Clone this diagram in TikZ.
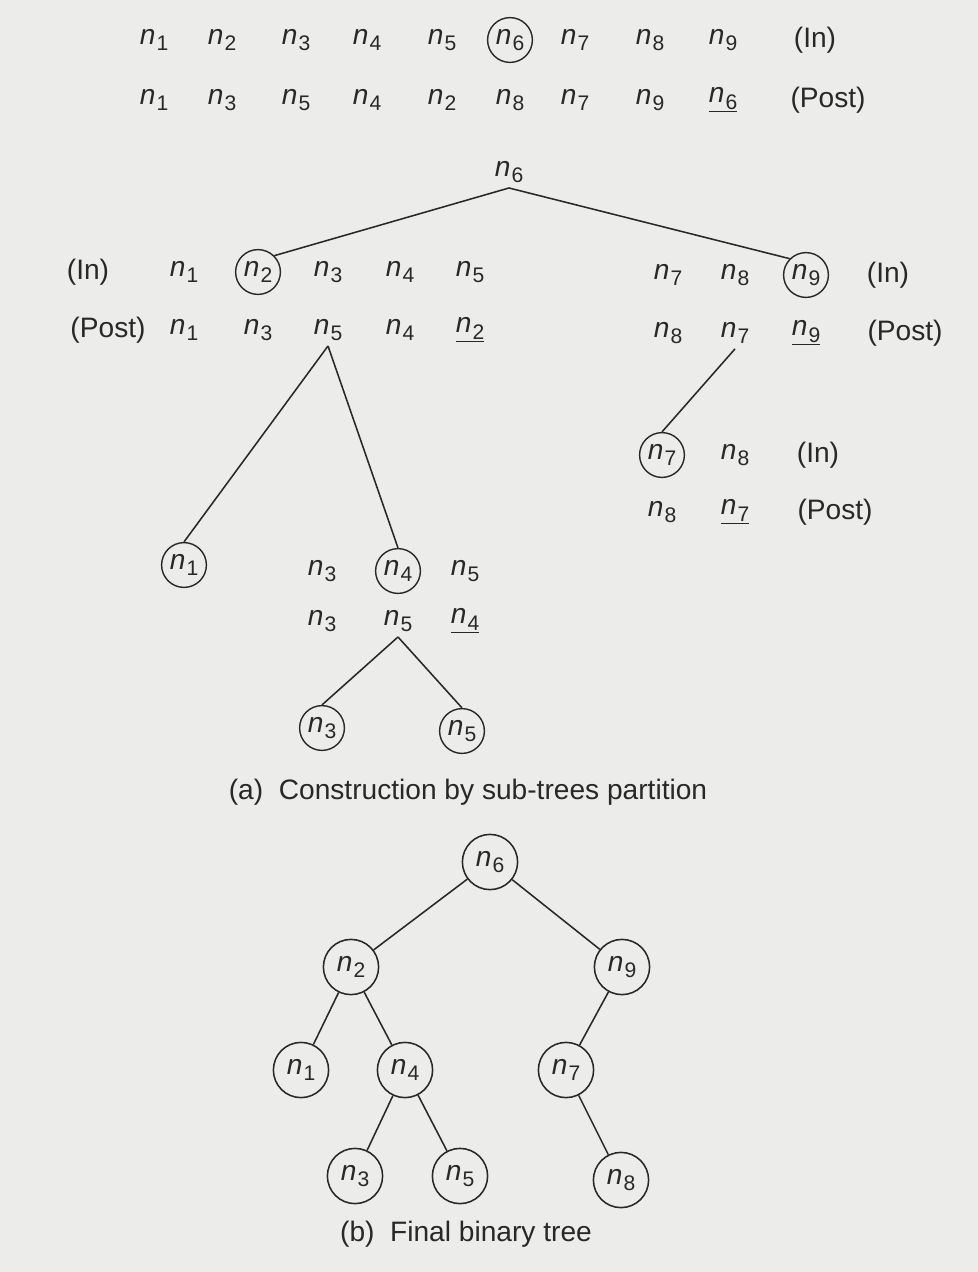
\documentclass[tikz,border=0pt]{standalone}
\usepackage{fontspec}
\setmainfont{Liberation Sans}
\definecolor{paper}{RGB}{236,236,234}
\definecolor{ink}{RGB}{40,40,40}
% node label n_i
\newcommand{\nd}[1]{\textit{n}\kern0.04em\raisebox{-0.45ex}{\fontsize{15}{15}\selectfont #1}}

\begin{document}
\begin{tikzpicture}[x=0.025cm, y=-0.025cm, font=\fontsize{20}{24}\selectfont, ink,
        ring/.style={draw, circle, inner sep=0pt, minimum size=1.12cm, line width=1pt},
        bigring/.style={draw, circle, inner sep=0pt, minimum size=1.38cm, line width=1.1pt},
        edge/.style={line width=1.1pt}]

                % paper
                    \fill[paper] (0,0) rectangle (978,1272);

                % (a) whole sequences
                    \foreach \i/\x in {1/154, 2/222, 3/296, 4/367, 5/442, 7/575, 8/650, 9/723}
                        \node (a\i) at (\x,40) {\nd{\i}};
                    \node[ring] (a6) at (510,40) {\nd{6}};
                    \node (aIn) at (815,40) {(In)};
                    \foreach \i/\x in {1/154, 3/222, 5/296, 4/367, 2/442, 8/510, 7/575, 9/650}
                        \node (b\i) at (\x,100) {\nd{\i}};
                    \node (b6) at (723,100) {\underline{\nd{6}}};
                    \node (bPost) at (828,100) {(Post)};
                    \node (r6) at (509,172) {\nd{6}};

                % left sub-tree
                    \node (cIn) at (88,272) {(In)};
                    \foreach \i/\x in {1/184, 3/328, 4/400, 5/470}
                        \node (c\i) at (\x,272) {\nd{\i}};
                    \node[ring] (c2) at (258,272) {\nd{2}};
                    \node (dPost) at (108,330) {(Post)};
                    \foreach \i/\x in {1/184, 3/258, 5/328, 4/400}
                        \node (d\i) at (\x,330) {\nd{\i}};
                    \node (d2) at (470,330) {\underline{\nd{2}}};

                % right sub-tree
                    \node (c7) at (668,275) {\nd{7}};
                    \node (c8) at (735,275) {\nd{8}};
                    \node[ring] (c9) at (806,275) {\nd{9}};
                    \node (cIn2) at (888,275) {(In)};
                    \node (d8) at (668,333) {\nd{8}};
                    \node (d7) at (735,333) {\nd{7}};
                    \node (d9) at (806,333) {\underline{\nd{9}}};
                    \node (dPost2) at (905,333) {(Post)};

                    \draw[edge] (r6.south) -- (c2.north east);
                    \draw[edge] (r6.south) -- (c9.north west);

                % n7 n8
                    \node[ring] (f7) at (662,455) {\nd{7}};
                    \node (f8) at (735,455) {\nd{8}};
                    \node (fIn) at (818,455) {(In)};
                    \node (g8) at (662,512) {\nd{8}};
                    \node (g7) at (735,512) {\underline{\nd{7}}};
                    \node (gPost) at (835,512) {(Post)};
                    \draw[edge] (d7.south) -- (f7.north);

                % n3 n4 n5
                    \node[ring] (e1) at (184,565) {\nd{1}};
                    \node (e3) at (322,571) {\nd{3}};
                    \node[ring] (e4) at (398,571) {\nd{4}};
                    \node (e5) at (465,571) {\nd{5}};
                    \node (h3) at (322,621) {\nd{3}};
                    \node (h5) at (398,621) {\nd{5}};
                    \node (h4) at (465,621) {\underline{\nd{4}}};
                    \draw[edge] (d5.south) -- (e1.north);
                    \draw[edge] (d5.south) -- (e4.north);

                    \node[ring] (k3) at (322,728) {\nd{3}};
                    \node[ring] (k5) at (462,731) {\nd{5}};
                    \draw[edge] (h5.south) -- (k3.north);
                    \draw[edge] (h5.south) -- (k5.north);

                    \node (capa) at (468,792) {(a)\ \ Construction by sub-trees partition};

                % (b) final tree
                    \node[bigring] (t6) at (490,862) {\nd{6}};
                    \node[bigring] (t2) at (351,967) {\nd{2}};
                    \node[bigring] (t9) at (622,967) {\nd{9}};
                    \node[bigring] (t1) at (301,1070) {\nd{1}};
                    \node[bigring] (t4) at (405,1070) {\nd{4}};
                    \node[bigring] (t7) at (566,1070) {\nd{7}};
                    \node[bigring] (t3) at (355,1176) {\nd{3}};
                    \node[bigring] (t5) at (460,1176) {\nd{5}};
                    \node[bigring] (t8) at (621,1180) {\nd{8}};
                    \draw[edge] (t6) -- (t2);
                    \draw[edge] (t6) -- (t9);
                    \draw[edge] (t2) -- (t1);
                    \draw[edge] (t2) -- (t4);
                    \draw[edge] (t4) -- (t3);
                    \draw[edge] (t4) -- (t5);
                    \draw[edge] (t9) -- (t7);
                    \draw[edge] (t7) -- (t8);

                    \node (capb) at (466,1234) {(b)\ \ Final binary tree};

            \end{tikzpicture}
\end{document}
